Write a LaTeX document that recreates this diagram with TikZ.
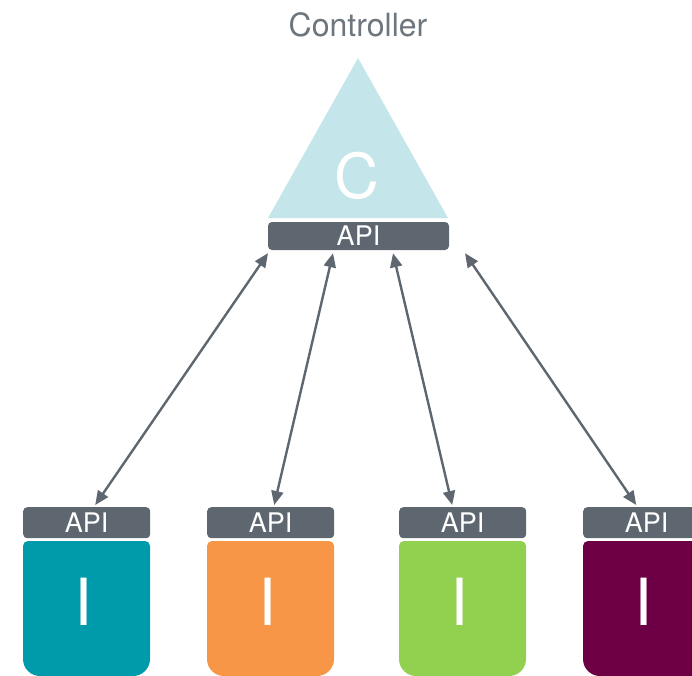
\documentclass[tikz,border=0pt]{standalone}
\usepackage{fontspec}
\setmainfont{TeX Gyre Heros}
\usetikzlibrary{positioning,arrows.meta}
\definecolor{ctrlblue}{HTML}{C4E6EB}
\definecolor{apigray}{HTML}{5E6770}
\definecolor{labelgray}{HTML}{6D757D}
\definecolor{insta}{HTML}{009BAA}
\definecolor{instb}{HTML}{F79646}
\definecolor{instc}{HTML}{92D050}
\definecolor{instd}{HTML}{6D0045}

\begin{document}
\begin{tikzpicture}[x=1pt, y=-1pt,
  apibar/.style={fill=apigray, rounded corners=4pt, text=white, inner sep=0pt,
    minimum width=127pt, minimum height=31pt, font=\fontsize{27}{27}\selectfont},
  link/.style={draw=apigray, line width=2.4pt, {Triangle[length=14pt,width=12pt]}-{Triangle[length=14pt,width=12pt]}}]
  \useasboundingbox (0,0) rectangle (692,675);
  \clip (0,0) rectangle (692,675);
  % Controller
  \node[text=labelgray, font=\fontsize{32}{32}\selectfont] (title) at (358,25) {Controller};
  \fill[ctrlblue] (268,218) -- (358,58) -- (448,218) -- cycle;
  \node[text=white, font=\fontsize{62}{62}\selectfont] (ctrl) at (357,176) {C};
  \node[apibar, minimum width=181pt, minimum height=28pt] (capi) at (358.5,236) {API};
  % Instances
  \foreach \i/\x/\col in {1/23/insta, 2/207/instb, 3/399/instc, 4/583/instd} {
    \node[apibar, anchor=north west] (api\i) at (\x,507) {API};
    \fill[\col] [rounded corners=5pt] (\x,600) -- (\x,541) -- (\x+127,541) -- (\x+127,600)
      [rounded corners=17pt] -- (\x+127,676) -- (\x,676) -- cycle;
    \node[text=white, font=\fontsize{65}{65}\selectfont] (inst\i) at (\x+61,602) {I};
  }
  % Links
  \foreach \i/\top/\bot in {1/-90.5/8.5, 2/-25.5/3.5, 3/34.5/-10.5, 4/106.5/-10.5}
    \draw[link] ([xshift=\top pt, yshift=-3pt]capi.south) -- ([xshift=\bot pt, yshift=2pt]api\i.north);
\end{tikzpicture}
\end{document}
